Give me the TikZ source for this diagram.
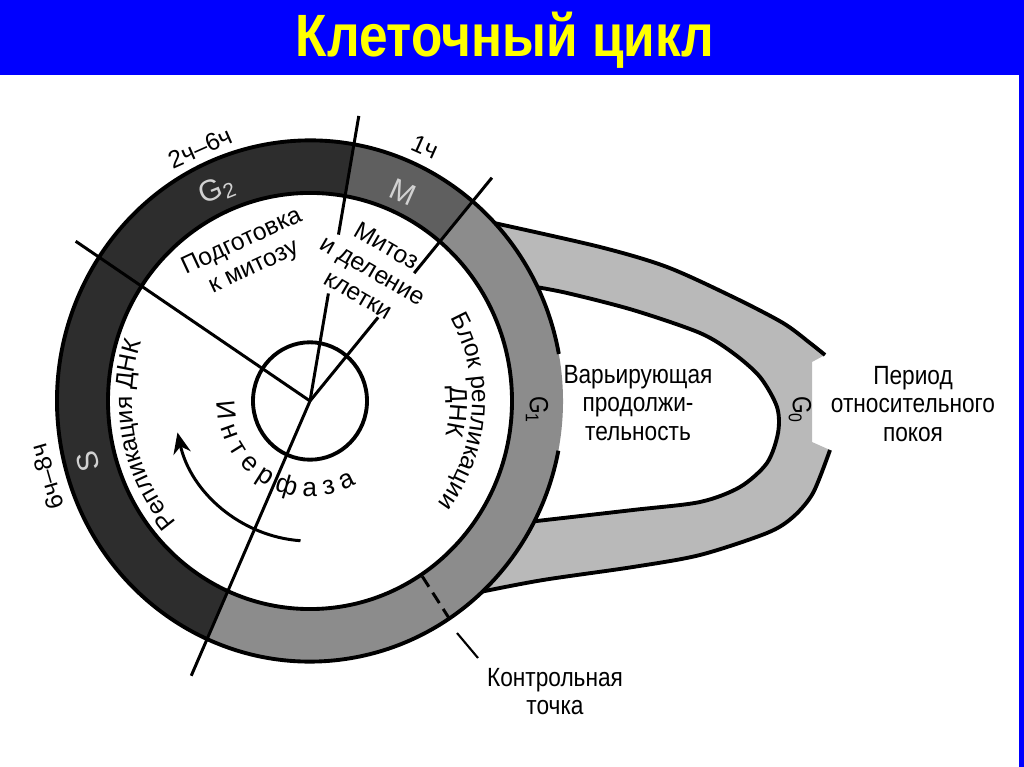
\documentclass[tikz,border=0pt]{standalone}
\usepackage{fontspec}
\usepackage{tikz}
\usetikzlibrary{arrows.meta,decorations.text}
\setmainfont{Liberation Sans}
\newfontfamily\narrowfont[FakeStretch=0.86]{Liberation Sans}
\definecolor{titleblue}{RGB}{0,0,255}
\definecolor{titleyellow}{RGB}{255,255,0}
\definecolor{darkfig}{RGB}{45,45,45}
\definecolor{mfig}{RGB}{95,95,95}
\definecolor{gonefig}{RGB}{140,140,140}
\definecolor{gzerofig}{RGB}{185,185,185}

\begin{document}
\begin{tikzpicture}[x=0.02cm, y=0.02cm,
    edge/.style={line width=2.2pt},
    spoke/.style={line width=1.7pt},
    lbl/.style={font=\narrowfont\fontsize{15}{16}\selectfont, align=center, inner sep=0pt},
    ringlbl/.style={font=\fontsize{14}{16}\selectfont, align=center, inner sep=0pt},
    phase/.style={font=\fontsize{17}{17}\selectfont, text=black!18, inner sep=0pt}]
\useasboundingbox (0,0) rectangle (1024,767);
\fill[titleblue] (0,692) rectangle (1024,767);
\fill[titleblue] (1019,0) rectangle (1024,767);
\node[font=\narrowfont\bfseries\fontsize{34}{36}\selectfont, text=titleyellow] (title) at (505,727) {Клеточный цикл};

\fill[gzerofig] plot[smooth] coordinates {(470,552) (500,542) (600,520) (667,500) (733,470) (783,444) (810,424) (825,412)}
    -- (812,405) -- (812,325)
    -- plot[smooth] coordinates {(830,317) (813,274) (793,250) (767,234) (700,212) (633,200) (543,187) (493,177) (470,170)}
    -- (507,249) -- (538,366) -- (507,483) -- cycle;
\fill[white] (500,481) -- plot[smooth] coordinates {(530,481) (567,474) (633,457) (700,434) (733,414) (760,390) (777,360) (778,334) (767,304) (740,280) (700,265) (633,257) (528,245)} -- (500,245) -- cycle;
\draw[edge] plot[smooth] coordinates {(494,544) (600,520) (667,500) (733,470) (783,444) (810,424) (825,412)};
\draw[edge] plot[smooth] coordinates {(830,317) (813,274) (793,250) (767,234) (700,212) (633,200) (543,187) (480,175)};
\draw[edge] plot[smooth] coordinates {(530,481) (567,474) (633,457) (700,434) (733,414) (760,390) (777,360) (778,334) (767,304) (740,280) (700,265) (633,257) (528,245)};

\begin{scope}[shift={(310,366)}, yscale=1.03]
\foreach \a/\b/\c in {-114/50/gonefig, 50/80/mfig, 80/146.5/darkfig, 146.5/246/darkfig}
    \fill[\c] (\a:253) arc[start angle=\a, end angle=\b, radius=253] -- (\b:202) arc[start angle=\b, end angle=\a, radius=202] -- cycle;
\draw[edge] (10.4:253) arc[start angle=10.4, end angle=349, radius=253];
\draw[edge] (0,0) circle[radius=202];
\draw[edge] (0,0) circle[radius=57];
\draw[spoke] (0,0) -- (146.5:281);
\draw[spoke] (0,0) -- (80:106) (80:164) -- (80:281);
\draw[spoke] (0,0) -- (50:106) (50:162) -- (50:283);
\draw[spoke] (0,0) -- (246:292);
\draw[spoke, dash pattern=on 7pt off 4pt] (303.4:204) -- (303.4:252);
\draw[spoke, -{Stealth[length=12pt,width=10pt]}] (266:136) arc[start angle=266, end angle=193, radius=136];
\path[decorate, decoration={text along path, text align=center, text={|\fontsize{14}{16}\selectfont|Репликация ДНК}}]
    (240:178) arc[start angle=240, end angle=143, radius=178];
\path[decorate, decoration={text along path, text align=center, text={|\fontsize{14}{16}\selectfont|Блок репликации}}]
    (40:162) arc[start angle=40, end angle=-48, radius=162];
\path[decorate, decoration={text along path, text align=center, text={|\fontsize{14}{16}\selectfont|ДНК}}]
    (20:140) arc[start angle=20, end angle=-28, radius=140];
\path[decorate, decoration={text along path, text align=center, text={|\fontsize{15}{16}\selectfont|И н т е р ф а з а}}]
    (172:93) arc[start angle=172, end angle=308, radius=93];
\end{scope}

\node[phase, rotate=22] (gtwo) at (217,577) {G\textsubscript{2}};
\node[phase, rotate=-24] (mph) at (403,575) {M};
\node[phase, rotate=105] (sph) at (88,305) {S};
\node[ringlbl, rotate=24] (gtwotime) at (200,619) {2ч–6ч};
\node[ringlbl, rotate=-24] (mtime) at (425,620) {1ч};
\node[ringlbl, rotate=106] (stime) at (47,290) {6ч–8ч};
\node[ringlbl, rotate=25] (prep) at (248,512) {Подготовка\\к митозу};
\node[ringlbl, rotate=-30] (mitosis) at (373,497) {Митоз\\и деление\\клетки};
\node[lbl, rotate=-90] (gone) at (537,357) {G\textsubscript{1}};
\node[lbl, rotate=-90] (gzero) at (800,357) {G\textsubscript{0}};
\node[lbl] (vary) at (638,364) {Варьирующая\\продолжи-\\тельность};
\node[lbl] (rest) at (913,363) {Период\\относительного\\покоя};
\node[lbl] (ctrl) at (555,75) {Контрольная\\точка};
\coordinate (ctrlpt) at (457,134);
\coordinate (ctrltip) at (478,109);
\draw[line width=1.2pt] (ctrlpt) -- (ctrltip);
\end{tikzpicture}
\end{document}
